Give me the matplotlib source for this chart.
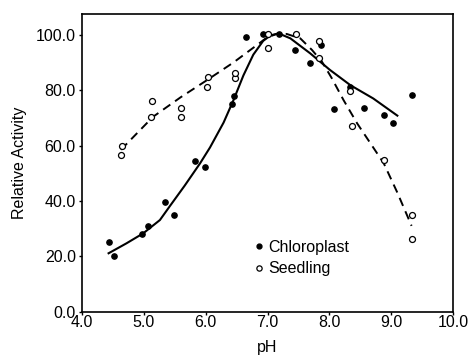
import matplotlib
matplotlib.use("Agg")
import matplotlib.pyplot as plt
from matplotlib.lines import Line2D

# Data
chloro_x = [4.44, 4.52, 4.97, 5.06, 5.34, 5.49, 5.83, 5.99, 6.42, 6.46, 6.65,
            6.93, 7.18, 7.45, 7.68, 7.87, 8.08, 8.33, 8.56, 8.89, 9.03, 9.33]
chloro_y = [25.1, 20.1, 28.1, 30.9, 39.7, 34.8, 54.4, 52.3, 75.1, 78.0, 99.1,
            100.3, 100.3, 94.5, 89.9, 96.3, 73.1, 81.2, 73.6, 71.0, 68.2, 78.2]

seed_x = [4.63, 4.64, 5.11, 5.14, 5.60, 5.60, 6.02, 6.03, 6.48, 6.48, 7.00,
          7.00, 7.46, 7.83, 7.84, 8.33, 8.37, 8.88, 9.33, 9.33]
seed_y = [56.5, 59.9, 70.4, 76.0, 70.4, 73.6, 81.2, 84.8, 84.4, 86.1, 95.1,
          100.3, 100.3, 97.8, 91.5, 79.8, 67.2, 54.8, 34.9, 26.1]

# Fitted curves
chloro_fit_x = [4.43, 4.72, 4.99, 5.26, 5.42, 5.66, 5.91, 6.07, 6.29, 6.45,
                6.61, 6.77, 6.93, 7.05, 7.18, 7.37, 7.53, 7.69, 8.01, 8.34,
                8.71, 9.10]
chloro_fit_y = [21.1, 24.7, 28.3, 33.1, 38.1, 45.5, 53.6, 59.3, 68.3, 76.4,
                85.3, 92.8, 97.8, 99.8, 100.5, 98.7, 96.0, 93.3, 87.3, 81.8,
                77.0, 70.8]

seed_fit_x = [4.63, 5.15, 5.60, 6.02, 6.45, 6.83, 6.99, 7.15, 7.31, 7.53,
              7.72, 7.88, 8.04, 8.23, 8.45, 8.88, 9.10, 9.33]
seed_fit_y = [58.5, 70.4, 77.5, 83.6, 90.0, 96.3, 99.0, 100.3, 100.3, 98.7,
              94.5, 90.3, 84.3, 76.4, 68.0, 53.6, 43.0, 31.0]

x_ticks = [4.0, 5.0, 6.0, 7.0, 8.0, 9.0, 10.0]
y_ticks = [0.0, 20.0, 40.0, 60.0, 80.0, 100.0]

plt.rcParams['font.family'] = ['Liberation Sans', 'DejaVu Sans']

fig = plt.figure(figsize=(4.7, 3.6), dpi=100)
ax = fig.add_axes([82/470, 1 - 311.7/360, (453-82)/470, (311.7-14)/360])

ax.plot(chloro_fit_x, chloro_fit_y, color='black', lw=1.5, solid_joinstyle='round')
ax.plot(seed_fit_x, seed_fit_y, color='black', lw=1.4, dashes=(4.5, 3))
ax.plot(chloro_x, chloro_y, 'o', color='black', ms=3.8, mec='black', zorder=3)
ax.plot(seed_x, seed_y, 'o', mfc='white', mec='black', ms=4.3, mew=0.9, zorder=3)

ax.set_xlim(4.0, 10.0)
ax.set_ylim(0, 107.5)
ax.set_xticks(x_ticks)
ax.set_xticklabels([f"{v:.1f}" for v in x_ticks])
ax.set_yticks(y_ticks)
ax.set_yticklabels([f"{v:.1f}" for v in y_ticks])
ax.tick_params(direction='out', length=2.5, width=1, labelsize=11.5)
ax.tick_params(axis='x', pad=0)
ax.tick_params(axis='y', pad=2)
for s in ax.spines.values():
    s.set_linewidth(1.2)

ax.set_xlabel('pH', fontsize=11.5, labelpad=7)
ax.set_ylabel('Relative Activity', fontsize=11.5, labelpad=6)

handles = [Line2D([], [], ls='none', marker='o', color='black', ms=3.5),
           Line2D([], [], ls='none', marker='o', mfc='white', mec='black', ms=3.8, mew=0.9)]
fig.legend(handles, ['Chloroplast', 'Seedling'], loc='center left',
           bbox_to_anchor=(254.2/470, 1 - 258/360), frameon=False,
           fontsize=11.5, handlelength=0.6, handletextpad=0.3, labelspacing=0.4,
           borderpad=0, borderaxespad=0)

fig.savefig('out.png', dpi=100)
